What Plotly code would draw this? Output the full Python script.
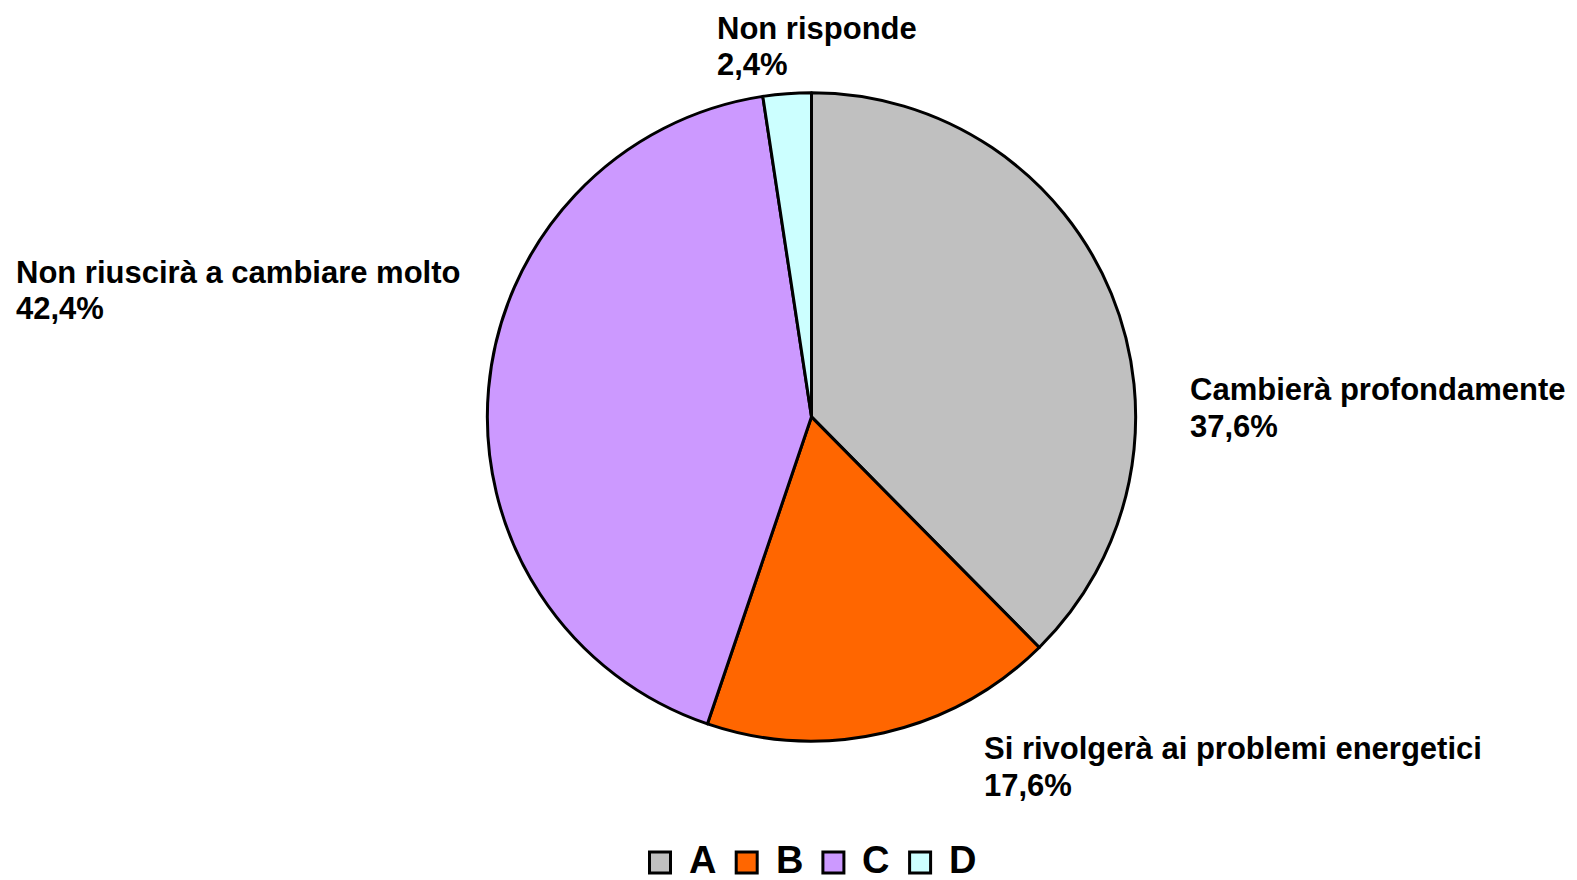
import plotly.graph_objects as go

W, H = 1577, 880

# ---- data ----
categories = ["A", "B", "C", "D"]
slice_names = ["Cambierà profondamente", "Si rivolgerà ai problemi energetici",
               "Non riuscirà a cambiare molto", "Non risponde"]
values = [37.6, 17.6, 42.4, 2.4]
value_labels = ["37,6%", "17,6%", "42,4%", "2,4%"]
colors = ["#C0C0C0", "#FF6600", "#CC99FF", "#CCFFFF"]

# ---- layout helpers (pixel positions for label text) ----
label_left = [1188, 982, 14, 715]          # left edge of label text (px)
label_line1_y = [389, 748, 272, 28]        # centre of first line (px from top)
label_line2_y = [426, 785, 308, 65]        # centre of second line

FONT = "Liberation Sans, Arial, sans-serif"

def px(x):
    return x / W

def py(y):
    return 1 - y / H

fig = go.Figure()
fig.add_trace(go.Pie(
    labels=categories,
    values=values,
    sort=False,
    direction="clockwise",
    rotation=0,
    textinfo="none",
    hoverinfo="label+percent",
    marker=dict(colors=colors, line=dict(color="black", width=3)),
    domain=dict(x=[px(486.7), px(1136.3)], y=[py(741), py(92.7)]),
    showlegend=False,
))

annotations = []
for i, name in enumerate(slice_names):
    for txt, yy in ((name, label_line1_y[i]), (value_labels[i], label_line2_y[i])):
        annotations.append(dict(
            x=px(label_left[i]), y=py(yy), xref="paper", yref="paper",
            xanchor="left", yanchor="middle", showarrow=False, text=txt,
            font=dict(family=FONT, size=31, color="black", weight="bold"),
        ))

# ---- custom legend ----
shapes = []
leg_start, leg_step, sq = 648, 86.7, 24
sq_top = 850.5
for i, cat in enumerate(categories):
    left = leg_start + i * leg_step
    shapes.append(dict(
        type="rect", xref="paper", yref="paper",
        x0=px(left + 1.5), x1=px(left + sq - 1.5),
        y0=py(sq_top + sq - 1.5), y1=py(sq_top + 1.5),
        fillcolor=colors[i], line=dict(color="black", width=3),
    ))
    annotations.append(dict(
        x=px(left + 39), y=py(860), xref="paper", yref="paper",
        xanchor="left", yanchor="middle", showarrow=False, text=cat,
        font=dict(family=FONT, size=38, color="black", weight="bold"),
    ))

fig.update_layout(
    width=W, height=H,
    margin=dict(l=0, r=0, t=0, b=0),
    paper_bgcolor="white", plot_bgcolor="white",
    annotations=annotations, shapes=shapes,
    showlegend=False,
)

fig.write_html(
    "out.html",
    config={"displayModeBar": False},
    post_script="document.body.style.margin='0';document.body.style.padding='0';document.body.style.overflow='hidden';",
)
